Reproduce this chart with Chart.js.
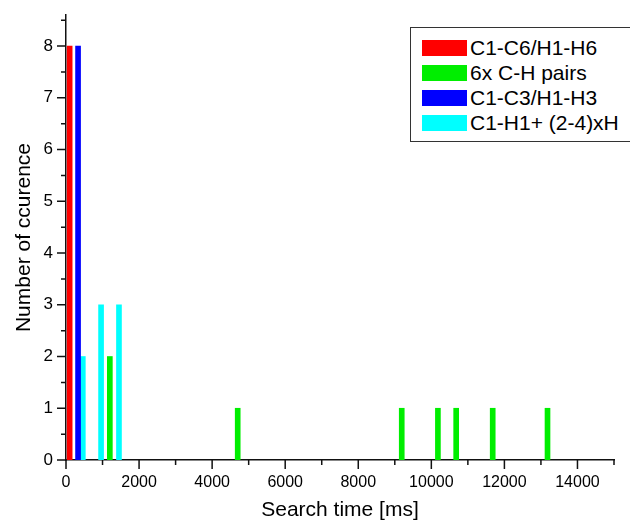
<!DOCTYPE html>
<html>
<head>
<meta charset="utf-8">
<script src="https://cdn.jsdelivr.net/npm/chart.js@4"></script>
<style>
  body { margin: 0; background: #fff; }
  #wrap { position: relative; width: 630px; height: 527px; overflow: hidden; }
  #legend {
    position: absolute; left: 410px; top: 27px; width: 240px; height: 115px;
    border: 1.5px solid #333; box-sizing: border-box; background: #fff;
    font-family: "Liberation Sans", Arial, sans-serif; font-size: 21px; color: #000;
    padding-top: 7px;
  }
  #legend .row { display: flex; align-items: center; height: 25px; white-space: nowrap; }
  #legend .sw { width: 45px; height: 16px; margin-left: 11px; margin-right: 3px; flex: none; }
</style>
</head>
<body>
<div id="wrap">
  <canvas id="chart" width="630" height="527"></canvas>
  <div id="legend"></div>
</div>
<script>
// values: search time [ms] and number of occurrences
const seriesNames = ['C1-C6/H1-H6', '6x C-H pairs', 'C1-C3/H1-H3', 'C1-H1+ (2-4)xH'];
const seriesColors = ['#ff0000', '#00ee00', '#0000ff', '#00ffff'];

const redTimes = [100];
const redCounts = [8];

const greenTimes = [1200, 4700, 9190, 10180, 10680, 11680, 13180];
const greenCounts = [2, 1, 1, 1, 1, 1, 1];

const blueTimes = [330];
const blueCounts = [8];

const cyanTimes = [460, 960, 1450];
const cyanCounts = [2, 3, 3];

const xTickLabels = [0, 2000, 4000, 6000, 8000, 10000, 12000, 14000];
const yTickLabels = [0, 1, 2, 3, 4, 5, 6, 7, 8];

const toPoints = (xs, ys) => xs.map((x, i) => ({ x: x, y: ys[i] }));

const dataSets = [
  toPoints(redTimes, redCounts),
  toPoints(greenTimes, greenCounts),
  toPoints(blueTimes, blueCounts),
  toPoints(cyanTimes, cyanCounts),
];

const font = { family: '"Liberation Sans", Arial, sans-serif', size: 16 };

// minor / major tick marks drawn outside the axes
const tickMarks = {
  id: 'tickMarks',
  afterDraw(chart) {
    const ctx = chart.ctx;
    const xs = chart.scales.x;
    const ys = chart.scales.y;
    ctx.save();
    ctx.strokeStyle = '#111';
    ctx.lineWidth = 1.5;
    ctx.beginPath();
    for (let v = 0; v <= 15000; v += 1000) {
      const px = xs.getPixelForValue(v);
      const len = v % 2000 === 0 ? 9 : 5;
      ctx.moveTo(px, ys.bottom);
      ctx.lineTo(px, ys.bottom + len);
    }
    for (let v = 0; v <= 8.5; v += 0.5) {
      const py = ys.getPixelForValue(v);
      const len = Number.isInteger(v) ? 9 : 5;
      ctx.moveTo(xs.left, py);
      ctx.lineTo(xs.left - len, py);
    }
    ctx.stroke();
    ctx.restore();
  }
};

new Chart(document.getElementById('chart'), {
  type: 'bar',
  data: {
    datasets: dataSets.map((d, i) => ({
      label: seriesNames[i],
      data: d,
      backgroundColor: seriesColors[i],
      borderWidth: 0,
      barThickness: 5,
      grouped: false,
    })),
  },
  options: {
    responsive: false,
    animation: false,
    layout: { padding: { top: 15, right: 16, left: 8, bottom: 0 } },
    plugins: { legend: { display: false }, tooltip: { enabled: false } },
    scales: {
      x: {
        type: 'linear',
        min: 0,
        max: 15000,
        offset: false,
        grid: { display: false, drawTicks: false },
        border: { display: true, color: '#111', width: 1.5 },
        afterBuildTicks: s => { s.ticks = xTickLabels.map(v => ({ value: v })); },
        ticks: {
          autoSkip: false,
          color: '#000',
          font: font,
          padding: 13,
          maxRotation: 0,
          callback: v => String(v),
        },
        title: {
          display: true,
          text: 'Search time [ms]',
          color: '#000',
          font: { family: font.family, size: 21 },
          padding: { top: 2 },
        },
        afterFit: s => { s.height = 67; },
      },
      y: {
        min: 0,
        max: 8.6,
        grid: { display: false, drawTicks: false },
        border: { display: true, color: '#111', width: 1.5 },
        afterBuildTicks: s => { s.ticks = yTickLabels.map(v => ({ value: v })); },
        ticks: {
          autoSkip: false,
          color: '#000',
          font: { family: font.family, size: 17 },
          padding: 13,
          callback: v => String(v),
        },
        title: {
          display: true,
          text: 'Number of ccurence',
          color: '#000',
          font: { family: font.family, size: 21 },
          padding: { bottom: 2 },
        },
        afterFit: s => { s.width = 58; s.paddingTop = 0; s.paddingBottom = 0; },
      },
    },
  },
  plugins: [tickMarks],
});

const legend = document.getElementById('legend');
seriesNames.forEach((name, i) => {
  const row = document.createElement('div');
  row.className = 'row';
  row.innerHTML = '<span class="sw" style="background:' + seriesColors[i] + '"></span><span>' + name + '</span>';
  legend.appendChild(row);
});
</script>
</body>
</html>
